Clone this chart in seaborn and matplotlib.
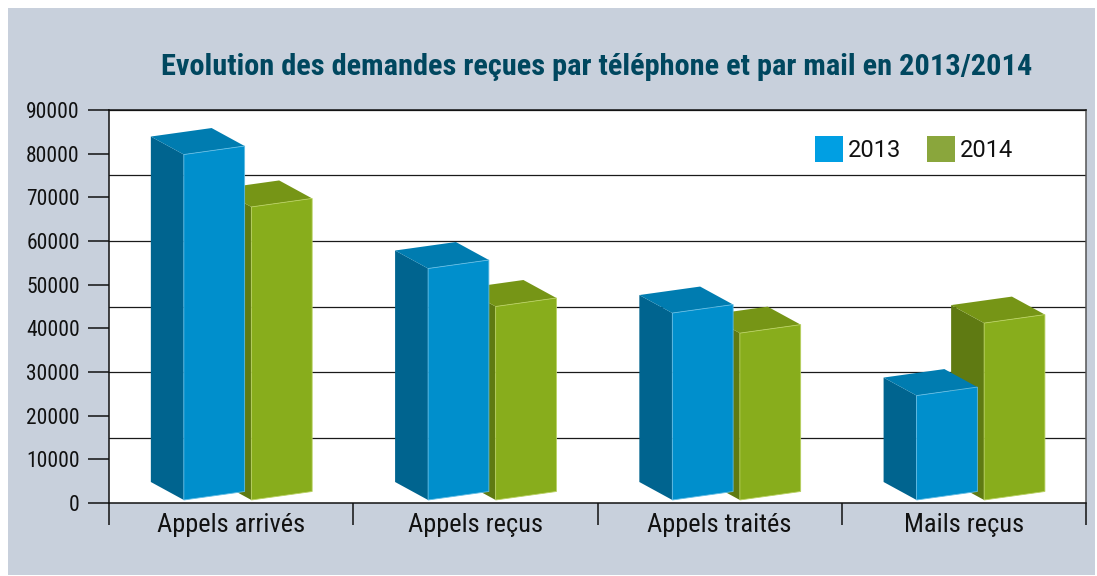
import matplotlib
matplotlib.use("Agg")
import matplotlib.pyplot as plt
from matplotlib.patches import Patch, Polygon, Rectangle
import pandas as pd
import seaborn as sns

categories = ["Appels arrivés", "Appels reçus", "Appels traités", "Mails reçus"]
values_2013 = [79800, 53700, 43500, 24600]
values_2014 = [67800, 45000, 38900, 41200]
years = ["2013", "2014"]
title = "Evolution des demandes reçues par téléphone et par mail en 2013/2014"

W, H = 1097, 576
L, R, T, B = 109, 1086, 110, 503
YMAX = 90000
NARROW = ["Roboto Condensed", "Liberation Sans", "DejaVu Sans"]

sns.set_theme(style="white")
plt.rcParams["font.family"] = ["Roboto", "Liberation Sans", "DejaVu Sans"]

df = pd.DataFrame({
    "cat": categories * 2,
    "year": ["2013"] * 4 + ["2014"] * 4,
    "val": values_2013 + values_2014,
})

# colours: front, side, top, edge
cols = {
    "2013": ("#008fcc", "#00648f", "#007cb0", "#62bce4"),
    "2014": ("#88ad1c", "#5f7a12", "#769516", "#b8d060"),
}
legend_cols = {"2013": "#009fe3", "2014": "#8aa63c"}

fig = plt.figure(figsize=(W / 100, H / 100), dpi=100, facecolor="white")
fig.patches.append(Rectangle((8 / W, 1 / H), 1087 / W, 567 / H, transform=fig.transFigure,
                             facecolor="#c8d0dc", edgecolor="none", zorder=-1))
ax = fig.add_axes([L / W, 1 - B / H, (R - L) / W, (B - T) / H], facecolor="white")

sns.barplot(data=df, x="cat", y="val", hue="year", order=categories, hue_order=years,
            width=0.553, gap=0.1, dodge=True, legend=False, ax=ax)

cat_w = (R - L) / 4
px_x = 1 / cat_w
px_y = YMAX / (B - T)
x0 = (L - 248) / cat_w
ax.set_xlim(x0, x0 + 4)
ax.set_ylim(0, YMAX)

# seaborn gives the bar positions, the 3d look is built on top of them
rects = list(ax.patches)
n = len(categories)
groups = {"2013": rects[:n], "2014": rects[n:]}
for year in ["2014", "2013"]:
    front, side, top, edge = cols[year]
    for r in groups[year]:
        r.set_visible(False)
        x1, x2 = r.get_x(), r.get_x() + r.get_width()
        v = r.get_height()
        base = 3 * px_y
        rise = 8.5 * px_y
        ddx, ddy = -33 * px_x, 18 * px_y
        ax.add_patch(Polygon([(x1, base), (x1, v), (x1 + ddx, v + ddy), (x1 + ddx, base + ddy)],
                             facecolor=side, edgecolor="none", zorder=3))
        ax.add_patch(Polygon([(x1, v), (x2, v + rise), (x2 + ddx, v + rise + ddy), (x1 + ddx, v + ddy)],
                             facecolor=top, edgecolor="none", zorder=3))
        ax.add_patch(Polygon([(x1, base), (x2, base + rise), (x2, v + rise), (x1, v)],
                             facecolor=front, edgecolor=edge, linewidth=0.6, zorder=3))

for level in range(15000, 90001, 15000):
    ax.axhline(level, color="#1a1a1a", linewidth=0.9, zorder=1)

ax.set_xlabel("")
ax.set_ylabel("")
ax.set_yticks(range(0, 90001, 10000))
ax.set_xticks([x0 + i for i in range(5)])
ax.set_xticklabels([])
ax.set_xticks([i - 17 * px_x for i in range(4)], minor=True)
ax.set_xticklabels(categories, minor=True, family=NARROW, fontsize=19, color="#111111")
ax.tick_params(axis="x", which="major", length=16, width=1.1, color="#111111", bottom=True)
ax.tick_params(axis="x", which="minor", length=0, pad=7, bottom=True)
ax.tick_params(axis="y", length=15, width=1.1, color="#111111", pad=6, left=True)
for lab in ax.get_yticklabels():
    lab.set_family(NARROW)
    lab.set_fontsize(15.5)
    lab.set_color("#111111")

for name in ["left", "bottom", "top"]:
    ax.spines[name].set_color("#111111")
    ax.spines[name].set_linewidth(1.1)
ax.spines["right"].set_color("#555555")
ax.spines["right"].set_linewidth(1.1)

handles = [Patch(facecolor=legend_cols[y], edgecolor="none", label=y) for y in years]
ax.legend(handles=handles, loc="center left", bbox_to_anchor=((815 - L) / (R - L), (B - 149) / (B - T)),
          ncols=2, frameon=False, fontsize=17, borderpad=0, borderaxespad=0,
          handlelength=1.186, handleheight=1.3, handletextpad=0.21, columnspacing=1.1,
          labelcolor="#111111")

fig.text(161 / W, 1 - 67 / H, title, family=NARROW, fontweight="bold", fontsize=21.9,
         color="#00475f", ha="left", va="center")

fig.savefig("out.png", dpi=100, facecolor=fig.get_facecolor())
